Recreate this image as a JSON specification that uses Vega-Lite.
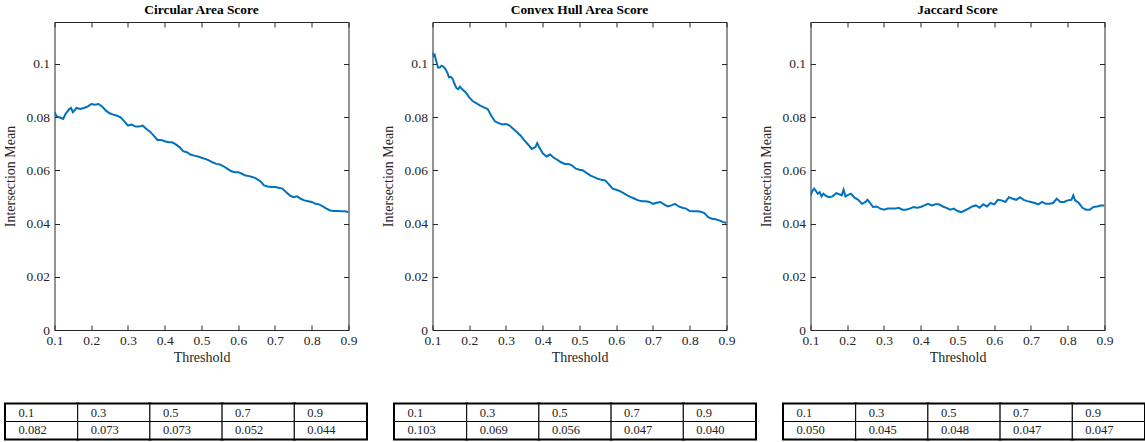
{
  "$schema": "https://vega.github.io/schema/vega-lite/v6.json",
  "padding": {"left": 3.5, "top": 3, "right": 0, "bottom": 0},
  "background": "white",
  "config": {
    "view": {"stroke": null},
    "font": "Liberation Serif",
    "axis": {
      "domainColor": "#262626", "tickColor": "#262626", "labelColor": "#262626", "titleColor": "#262626",
      "labelFont": "Liberation Serif", "titleFont": "Liberation Serif",
      "labelFontSize": 13.5, "titleFontSize": 14, "titleFontWeight": "normal",
      "grid": false, "tickSize": -5, "domainWidth": 1, "tickWidth": 1,
      "labelFlush": false, "labelOverlap": false
    },
    "title": {"font": "Liberation Serif", "fontSize": 13.4, "fontWeight": "bold", "color": "#000000", "anchor": "middle", "offset": 5}
  },
  "datasets": {
    "circular": [
      {"t":0.1,"v":0.0818},{"t":0.105,"v":0.0805},{"t":0.11,"v":0.0800},{"t":0.115,"v":0.0798},{"t":0.1235,"v":0.0793},{"t":0.13,"v":0.0811},{"t":0.14,"v":0.0830},{"t":0.145,"v":0.0834},{"t":0.15,"v":0.0818},{"t":0.16,"v":0.0834},{"t":0.17,"v":0.0830},{"t":0.18,"v":0.0834},{"t":0.19,"v":0.0839},{"t":0.2,"v":0.0849},{"t":0.21,"v":0.0846},{"t":0.22,"v":0.0849},{"t":0.23,"v":0.0839},{"t":0.24,"v":0.0824},{"t":0.25,"v":0.0814},{"t":0.26,"v":0.0809},{"t":0.27,"v":0.0805},{"t":0.28,"v":0.0799},{"t":0.29,"v":0.0784},{"t":0.3,"v":0.0768},{"t":0.31,"v":0.0772},{"t":0.32,"v":0.0764},{"t":0.33,"v":0.0764},{"t":0.34,"v":0.0768},{"t":0.35,"v":0.0755},{"t":0.36,"v":0.0745},{"t":0.37,"v":0.0730},{"t":0.38,"v":0.0714},{"t":0.39,"v":0.0714},{"t":0.4,"v":0.0709},{"t":0.41,"v":0.0705},{"t":0.42,"v":0.0705},{"t":0.43,"v":0.0697},{"t":0.44,"v":0.0687},{"t":0.45,"v":0.0672},{"t":0.46,"v":0.0668},{"t":0.47,"v":0.0659},{"t":0.48,"v":0.0655},{"t":0.49,"v":0.0652},{"t":0.5,"v":0.0647},{"t":0.51,"v":0.0643},{"t":0.52,"v":0.0637},{"t":0.53,"v":0.0630},{"t":0.54,"v":0.0624},{"t":0.55,"v":0.0622},{"t":0.56,"v":0.0615},{"t":0.57,"v":0.0606},{"t":0.58,"v":0.0597},{"t":0.59,"v":0.0593},{"t":0.6,"v":0.0593},{"t":0.61,"v":0.0587},{"t":0.62,"v":0.0580},{"t":0.63,"v":0.0578},{"t":0.64,"v":0.0574},{"t":0.65,"v":0.0568},{"t":0.66,"v":0.0559},{"t":0.67,"v":0.0543},{"t":0.68,"v":0.0539},{"t":0.69,"v":0.0537},{"t":0.7,"v":0.0537},{"t":0.71,"v":0.0534},{"t":0.72,"v":0.0531},{"t":0.73,"v":0.0518},{"t":0.74,"v":0.0506},{"t":0.75,"v":0.0499},{"t":0.76,"v":0.0502},{"t":0.77,"v":0.0493},{"t":0.78,"v":0.0487},{"t":0.79,"v":0.0484},{"t":0.8,"v":0.0481},{"t":0.81,"v":0.0474},{"t":0.82,"v":0.0472},{"t":0.83,"v":0.0464},{"t":0.84,"v":0.0456},{"t":0.85,"v":0.0449},{"t":0.86,"v":0.0447},{"t":0.87,"v":0.0447},{"t":0.88,"v":0.0446},{"t":0.89,"v":0.0446},{"t":0.9,"v":0.0443}
    ],
    "convex": [
      {"t":0.1,"v":0.1042},{"t":0.103,"v":0.1030},{"t":0.106,"v":0.1034},{"t":0.11,"v":0.1011},{"t":0.115,"v":0.0986},{"t":0.12,"v":0.0986},{"t":0.125,"v":0.0993},{"t":0.13,"v":0.0989},{"t":0.135,"v":0.0980},{"t":0.14,"v":0.0968},{"t":0.145,"v":0.0949},{"t":0.15,"v":0.0951},{"t":0.155,"v":0.0943},{"t":0.16,"v":0.0924},{"t":0.165,"v":0.0909},{"t":0.17,"v":0.0905},{"t":0.175,"v":0.0914},{"t":0.18,"v":0.0905},{"t":0.19,"v":0.0893},{"t":0.2,"v":0.0874},{"t":0.21,"v":0.0859},{"t":0.22,"v":0.0851},{"t":0.23,"v":0.0843},{"t":0.24,"v":0.0836},{"t":0.25,"v":0.0830},{"t":0.26,"v":0.0805},{"t":0.27,"v":0.0784},{"t":0.28,"v":0.0777},{"t":0.29,"v":0.0772},{"t":0.3,"v":0.0774},{"t":0.31,"v":0.0768},{"t":0.32,"v":0.0755},{"t":0.33,"v":0.0743},{"t":0.34,"v":0.0730},{"t":0.35,"v":0.0712},{"t":0.36,"v":0.0697},{"t":0.37,"v":0.0680},{"t":0.38,"v":0.0687},{"t":0.385,"v":0.0702},{"t":0.39,"v":0.0687},{"t":0.4,"v":0.0664},{"t":0.41,"v":0.0652},{"t":0.42,"v":0.0659},{"t":0.43,"v":0.0647},{"t":0.44,"v":0.0639},{"t":0.45,"v":0.0630},{"t":0.46,"v":0.0624},{"t":0.47,"v":0.0624},{"t":0.48,"v":0.0618},{"t":0.49,"v":0.0606},{"t":0.5,"v":0.0602},{"t":0.51,"v":0.0599},{"t":0.52,"v":0.0589},{"t":0.53,"v":0.0580},{"t":0.54,"v":0.0574},{"t":0.55,"v":0.0568},{"t":0.56,"v":0.0564},{"t":0.57,"v":0.0562},{"t":0.58,"v":0.0547},{"t":0.59,"v":0.0531},{"t":0.6,"v":0.0527},{"t":0.61,"v":0.0522},{"t":0.62,"v":0.0514},{"t":0.63,"v":0.0506},{"t":0.64,"v":0.0499},{"t":0.65,"v":0.0493},{"t":0.66,"v":0.0487},{"t":0.67,"v":0.0484},{"t":0.68,"v":0.0484},{"t":0.69,"v":0.0481},{"t":0.7,"v":0.0474},{"t":0.71,"v":0.0478},{"t":0.72,"v":0.0481},{"t":0.73,"v":0.0472},{"t":0.74,"v":0.0464},{"t":0.75,"v":0.0468},{"t":0.76,"v":0.0474},{"t":0.77,"v":0.0464},{"t":0.78,"v":0.0459},{"t":0.79,"v":0.0456},{"t":0.8,"v":0.0447},{"t":0.81,"v":0.0446},{"t":0.82,"v":0.0446},{"t":0.83,"v":0.0444},{"t":0.84,"v":0.0439},{"t":0.85,"v":0.0424},{"t":0.86,"v":0.0418},{"t":0.87,"v":0.0416},{"t":0.88,"v":0.0412},{"t":0.89,"v":0.0406},{"t":0.9,"v":0.0402}
    ],
    "jaccard": [
      {"t":0.1,"v":0.0506},{"t":0.105,"v":0.0522},{"t":0.11,"v":0.0531},{"t":0.115,"v":0.0522},{"t":0.12,"v":0.0512},{"t":0.125,"v":0.0518},{"t":0.13,"v":0.0502},{"t":0.135,"v":0.0512},{"t":0.14,"v":0.0506},{"t":0.15,"v":0.0499},{"t":0.16,"v":0.0502},{"t":0.17,"v":0.0514},{"t":0.18,"v":0.0509},{"t":0.185,"v":0.0506},{"t":0.19,"v":0.0527},{"t":0.195,"v":0.0502},{"t":0.2,"v":0.0506},{"t":0.21,"v":0.0512},{"t":0.22,"v":0.0497},{"t":0.23,"v":0.0489},{"t":0.24,"v":0.0474},{"t":0.25,"v":0.0481},{"t":0.255,"v":0.0489},{"t":0.26,"v":0.0481},{"t":0.27,"v":0.0462},{"t":0.28,"v":0.0464},{"t":0.29,"v":0.0456},{"t":0.3,"v":0.0452},{"t":0.31,"v":0.0456},{"t":0.32,"v":0.0456},{"t":0.33,"v":0.0456},{"t":0.34,"v":0.0459},{"t":0.35,"v":0.0452},{"t":0.36,"v":0.0452},{"t":0.37,"v":0.0456},{"t":0.38,"v":0.0462},{"t":0.39,"v":0.0459},{"t":0.4,"v":0.0462},{"t":0.41,"v":0.0468},{"t":0.42,"v":0.0474},{"t":0.43,"v":0.0468},{"t":0.44,"v":0.0472},{"t":0.45,"v":0.0472},{"t":0.46,"v":0.0464},{"t":0.47,"v":0.0459},{"t":0.48,"v":0.0452},{"t":0.49,"v":0.0456},{"t":0.5,"v":0.0447},{"t":0.51,"v":0.0443},{"t":0.52,"v":0.0449},{"t":0.53,"v":0.0456},{"t":0.54,"v":0.0464},{"t":0.55,"v":0.0468},{"t":0.56,"v":0.0459},{"t":0.57,"v":0.0472},{"t":0.58,"v":0.0464},{"t":0.59,"v":0.0477},{"t":0.6,"v":0.0472},{"t":0.61,"v":0.0489},{"t":0.62,"v":0.0487},{"t":0.63,"v":0.0481},{"t":0.64,"v":0.0499},{"t":0.65,"v":0.0493},{"t":0.66,"v":0.0489},{"t":0.67,"v":0.0499},{"t":0.68,"v":0.0489},{"t":0.69,"v":0.0484},{"t":0.7,"v":0.0481},{"t":0.71,"v":0.0477},{"t":0.72,"v":0.0472},{"t":0.73,"v":0.0481},{"t":0.74,"v":0.0474},{"t":0.75,"v":0.0474},{"t":0.76,"v":0.0477},{"t":0.77,"v":0.0493},{"t":0.78,"v":0.0481},{"t":0.79,"v":0.0481},{"t":0.8,"v":0.0487},{"t":0.81,"v":0.0489},{"t":0.815,"v":0.0506},{"t":0.82,"v":0.0487},{"t":0.83,"v":0.0477},{"t":0.84,"v":0.0459},{"t":0.85,"v":0.0452},{"t":0.86,"v":0.0452},{"t":0.87,"v":0.0462},{"t":0.88,"v":0.0464},{"t":0.89,"v":0.0468},{"t":0.9,"v":0.0468}
    ],
    "tab1": [
      {"c":1,"r":1,"text":"0.1"},{"c":2,"r":1,"text":"0.3"},{"c":3,"r":1,"text":"0.5"},{"c":4,"r":1,"text":"0.7"},{"c":5,"r":1,"text":"0.9"},
      {"c":1,"r":2,"text":"0.082"},{"c":2,"r":2,"text":"0.073"},{"c":3,"r":2,"text":"0.073"},{"c":4,"r":2,"text":"0.052"},{"c":5,"r":2,"text":"0.044"}
    ],
    "tab2": [
      {"c":1,"r":1,"text":"0.1"},{"c":2,"r":1,"text":"0.3"},{"c":3,"r":1,"text":"0.5"},{"c":4,"r":1,"text":"0.7"},{"c":5,"r":1,"text":"0.9"},
      {"c":1,"r":2,"text":"0.103"},{"c":2,"r":2,"text":"0.069"},{"c":3,"r":2,"text":"0.056"},{"c":4,"r":2,"text":"0.047"},{"c":5,"r":2,"text":"0.040"}
    ],
    "tab3": [
      {"c":1,"r":1,"text":"0.1"},{"c":2,"r":1,"text":"0.3"},{"c":3,"r":1,"text":"0.5"},{"c":4,"r":1,"text":"0.7"},{"c":5,"r":1,"text":"0.9"},
      {"c":1,"r":2,"text":"0.050"},{"c":2,"r":2,"text":"0.045"},{"c":3,"r":2,"text":"0.048"},{"c":4,"r":2,"text":"0.047"},{"c":5,"r":2,"text":"0.047"}
    ]
  },
  "vconcat": [
    {
      "hconcat": [
        {
          "width": 294, "height": 308,
          "title": {"text": "Circular Area Score"},
          "data": {"name": "circular"},
          "layer": [
            {"mark": {"type": "line", "color": "#0072BD", "strokeWidth": 2, "clip": true},
             "encoding": {
               "x": {"field": "t", "type": "quantitative", "scale": {"domain": [0.1, 0.9], "nice": false, "zero": false},
                     "axis": {"orient": "bottom", "values": [0.1,0.2,0.3,0.4,0.5,0.6,0.7,0.8,0.9], "format": "~g", "title": "Threshold", "labelPadding": 8, "titlePadding": 4}},
               "y": {"field": "v", "type": "quantitative", "scale": {"domain": [0, 0.1157], "nice": false, "zero": false},
                     "axis": {"orient": "left", "values": [0,0.02,0.04,0.06,0.08,0.1], "format": "~g", "title": "Intersection Mean", "labelPadding": 10, "titlePadding": 8}}
             }},
            {"mark": {"type": "line", "opacity": 0},
             "encoding": {
               "x": {"field": "t", "type": "quantitative", "axis": {"orient": "top", "values": [0.1,0.2,0.3,0.4,0.5,0.6,0.7,0.8,0.9], "labels": false, "title": null}},
               "y": {"field": "v", "type": "quantitative", "axis": {"orient": "right", "values": [0,0.02,0.04,0.06,0.08,0.1], "labels": false, "title": null}}
             }}
          ],
          "resolve": {"axis": {"x": "independent", "y": "independent"}}
        },
        {
          "width": 294, "height": 308,
          "title": {"text": "Convex Hull Area Score"},
          "data": {"name": "convex"},
          "layer": [
            {"mark": {"type": "line", "color": "#0072BD", "strokeWidth": 2, "clip": true},
             "encoding": {
               "x": {"field": "t", "type": "quantitative", "scale": {"domain": [0.1, 0.9], "nice": false, "zero": false},
                     "axis": {"orient": "bottom", "values": [0.1,0.2,0.3,0.4,0.5,0.6,0.7,0.8,0.9], "format": "~g", "title": "Threshold", "labelPadding": 8, "titlePadding": 4}},
               "y": {"field": "v", "type": "quantitative", "scale": {"domain": [0, 0.1157], "nice": false, "zero": false},
                     "axis": {"orient": "left", "values": [0,0.02,0.04,0.06,0.08,0.1], "format": "~g", "title": "Intersection Mean", "labelPadding": 10, "titlePadding": 8}}
             }},
            {"mark": {"type": "line", "opacity": 0},
             "encoding": {
               "x": {"field": "t", "type": "quantitative", "axis": {"orient": "top", "values": [0.1,0.2,0.3,0.4,0.5,0.6,0.7,0.8,0.9], "labels": false, "title": null}},
               "y": {"field": "v", "type": "quantitative", "axis": {"orient": "right", "values": [0,0.02,0.04,0.06,0.08,0.1], "labels": false, "title": null}}
             }}
          ],
          "resolve": {"axis": {"x": "independent", "y": "independent"}}
        },
        {
          "width": 294, "height": 308,
          "title": {"text": "Jaccard Score"},
          "data": {"name": "jaccard"},
          "layer": [
            {"mark": {"type": "line", "color": "#0072BD", "strokeWidth": 2, "clip": true},
             "encoding": {
               "x": {"field": "t", "type": "quantitative", "scale": {"domain": [0.1, 0.9], "nice": false, "zero": false},
                     "axis": {"orient": "bottom", "values": [0.1,0.2,0.3,0.4,0.5,0.6,0.7,0.8,0.9], "format": "~g", "title": "Threshold", "labelPadding": 8, "titlePadding": 4}},
               "y": {"field": "v", "type": "quantitative", "scale": {"domain": [0, 0.1157], "nice": false, "zero": false},
                     "axis": {"orient": "left", "values": [0,0.02,0.04,0.06,0.08,0.1], "format": "~g", "title": "Intersection Mean", "labelPadding": 10, "titlePadding": 8}}
             }},
            {"mark": {"type": "line", "opacity": 0},
             "encoding": {
               "x": {"field": "t", "type": "quantitative", "axis": {"orient": "top", "values": [0.1,0.2,0.3,0.4,0.5,0.6,0.7,0.8,0.9], "labels": false, "title": null}},
               "y": {"field": "v", "type": "quantitative", "axis": {"orient": "right", "values": [0,0.02,0.04,0.06,0.08,0.1], "labels": false, "title": null}}
             }}
          ],
          "resolve": {"axis": {"x": "independent", "y": "independent"}}
        }
      ],
      "spacing": 84,
      "bounds": "flush"
    },
    {
      "hconcat": [
        {
          "width": 361, "height": 35,
          "data": {"name": "tab1"},
          "encoding": {
            "x": {"field": "c", "type": "ordinal", "axis": null, "scale": {"paddingInner": 0, "paddingOuter": 0, "range": [-49, 312]}},
            "y": {"field": "r", "type": "ordinal", "axis": null, "scale": {"paddingInner": 0, "paddingOuter": 0}}
          },
          "layer": [
            {"mark": {"type": "rect", "fill": "#000000", "stroke": "#000000", "strokeWidth": 3, "strokeJoin": "miter"}},
            {"mark": {"type": "rect", "fill": "#ffffff", "stroke": "#000000", "strokeWidth": 1}},
            {"mark": {"type": "text", "align": "left", "baseline": "middle", "dx": 13, "font": "Liberation Serif", "fontSize": 12.5, "color": "#222222"},
             "encoding": {"x": {"field": "c", "type": "ordinal", "bandPosition": 0}, "text": {"field": "text"}}}
          ]
        },
        {
          "width": 361, "height": 35,
          "data": {"name": "tab2"},
          "encoding": {
            "x": {"field": "c", "type": "ordinal", "axis": null, "scale": {"paddingInner": 0, "paddingOuter": 0, "range": [-49, 312]}},
            "y": {"field": "r", "type": "ordinal", "axis": null, "scale": {"paddingInner": 0, "paddingOuter": 0}}
          },
          "layer": [
            {"mark": {"type": "rect", "fill": "#000000", "stroke": "#000000", "strokeWidth": 3, "strokeJoin": "miter"}},
            {"mark": {"type": "rect", "fill": "#ffffff", "stroke": "#000000", "strokeWidth": 1}},
            {"mark": {"type": "text", "align": "left", "baseline": "middle", "dx": 13, "font": "Liberation Serif", "fontSize": 12.5, "color": "#222222"},
             "encoding": {"x": {"field": "c", "type": "ordinal", "bandPosition": 0}, "text": {"field": "text"}}}
          ]
        },
        {
          "width": 361, "height": 35,
          "data": {"name": "tab3"},
          "encoding": {
            "x": {"field": "c", "type": "ordinal", "axis": null, "scale": {"paddingInner": 0, "paddingOuter": 0, "range": [-49, 312]}},
            "y": {"field": "r", "type": "ordinal", "axis": null, "scale": {"paddingInner": 0, "paddingOuter": 0}}
          },
          "layer": [
            {"mark": {"type": "rect", "fill": "#000000", "stroke": "#000000", "strokeWidth": 3, "strokeJoin": "miter"}},
            {"mark": {"type": "rect", "fill": "#ffffff", "stroke": "#000000", "strokeWidth": 1}},
            {"mark": {"type": "text", "align": "left", "baseline": "middle", "dx": 13, "font": "Liberation Serif", "fontSize": 12.5, "color": "#222222"},
             "encoding": {"x": {"field": "c", "type": "ordinal", "bandPosition": 0}, "text": {"field": "text"}}}
          ]
        }
      ],
      "spacing": 28,
      "bounds": "flush"
    }
  ],
  "spacing": 37
}
